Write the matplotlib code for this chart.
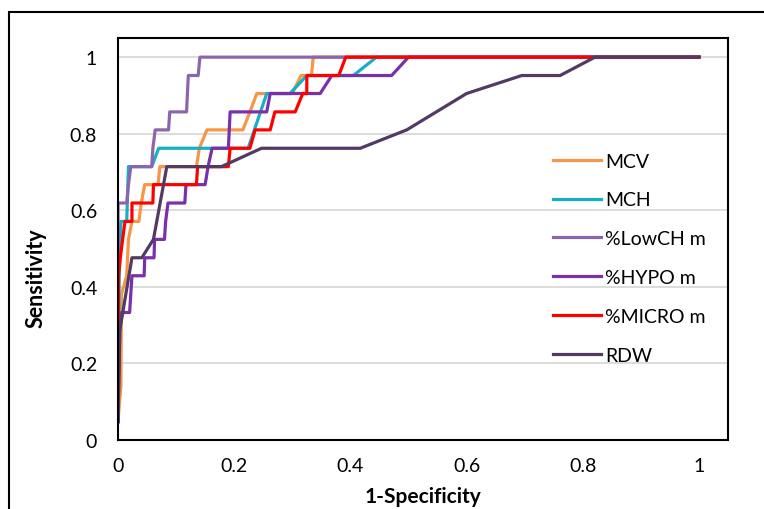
import numpy as np
import matplotlib
matplotlib.use('Agg')
import matplotlib.pyplot as plt
from matplotlib.patches import Rectangle

plt.rcParams['font.family'] = ['Lato', 'DejaVu Sans']

# ROC points (1-specificity, sensitivity)
mcv_x = [0, 0.005, 0.006, 0.015, 0.018, 0.024, 0.036, 0.040, 0.046, 0.069, 0.072, 0.135, 0.140, 0.153,
         0.215, 0.227, 0.239, 0.258, 0.300, 0.315, 0.333, 0.336, 1.0]
mcv_y = [0.048, 0.143, 0.381, 0.429, 0.524, 0.571, 0.571, 0.619, 0.667, 0.667, 0.714, 0.714, 0.762, 0.810,
         0.810, 0.857, 0.905, 0.905, 0.905, 0.952, 0.952, 1.0, 1.0]

mch_x = [0, 0.002, 0.005, 0.015, 0.018, 0.058, 0.070, 0.224, 0.256, 0.296, 0.325, 0.405, 0.445, 1.0]
mch_y = [0.048, 0.429, 0.571, 0.571, 0.714, 0.714, 0.762, 0.762, 0.905, 0.905, 0.952, 0.952, 1.0, 1.0]

lowch_x = [0, 0.0, 0.015, 0.018, 0.022, 0.058, 0.060, 0.064, 0.087, 0.089, 0.118, 0.121, 0.138, 0.141, 1.0]
lowch_y = [0.048, 0.619, 0.619, 0.667, 0.714, 0.714, 0.762, 0.810, 0.810, 0.857, 0.857, 0.952, 0.952, 1.0, 1.0]

hypo_x = [0, 0.003, 0.006, 0.020, 0.022, 0.024, 0.045, 0.046, 0.062, 0.063, 0.080, 0.082, 0.086, 0.115,
          0.117, 0.150, 0.155, 0.162, 0.190, 0.193, 0.256, 0.262, 0.348, 0.368, 0.471, 0.500, 1.0]
hypo_y = [0.048, 0.286, 0.333, 0.333, 0.381, 0.429, 0.429, 0.476, 0.476, 0.524, 0.524, 0.571, 0.619, 0.619,
          0.667, 0.667, 0.714, 0.762, 0.762, 0.857, 0.857, 0.905, 0.905, 0.952, 0.952, 1.0, 1.0]

micro_x = [0, 0.001, 0.004, 0.008, 0.012, 0.024, 0.024, 0.060, 0.061, 0.135, 0.137, 0.190, 0.193, 0.227,
           0.236, 0.262, 0.270, 0.305, 0.318, 0.325, 0.325, 0.380, 0.392, 1.0]
micro_y = [0.238, 0.429, 0.476, 0.524, 0.571, 0.571, 0.619, 0.619, 0.667, 0.667, 0.714, 0.714, 0.762, 0.762,
           0.810, 0.810, 0.857, 0.857, 0.905, 0.905, 0.952, 0.952, 1.0, 1.0]

rdw_x = [0, 0.003, 0.024, 0.041, 0.061, 0.084, 0.178, 0.247, 0.417, 0.497, 0.600, 0.695, 0.761, 0.821, 1.0]
rdw_y = [0.048, 0.286, 0.476, 0.476, 0.524, 0.714, 0.714, 0.762, 0.762, 0.810, 0.905, 0.952, 0.952, 1.0, 1.0]

series = [
    ('MCV', mcv_x, mcv_y, '#F79646'),
    ('MCH', mch_x, mch_y, '#17AFC6'),
    ('%LowCH m', lowch_x, lowch_y, '#8A66AE'),
    ('%HYPO m', hypo_x, hypo_y, '#7A30A8'),
    ('%MICRO m', micro_x, micro_y, '#FF0000'),
    ('RDW', rdw_x, rdw_y, '#523A64'),
]

fig = plt.figure(figsize=(7.64, 5.10), dpi=100)
ax = fig.add_axes([118 / 764, 1 - 441 / 510, 610 / 764, 402 / 510])

for name, xs, ys, col in series:
    ax.plot(xs, ys, color=col, lw=2.3, label=name, solid_joinstyle='round')

ax.set_xlim(0, 1.05)
ax.set_ylim(0, 1.05)
ticks = [0, 0.2, 0.4, 0.6, 0.8, 1]
labels = ['0', '0.2', '0.4', '0.6', '0.8', '1']
ax.set_xticks(ticks)
ax.set_xticklabels(labels)
ax.set_yticks(ticks)
ax.set_yticklabels(labels)
ax.tick_params(axis='x', length=0, labelsize=14, pad=12)
ax.tick_params(axis='y', length=0, labelsize=14, pad=15)
ax.grid(axis='y', color='#D9D9D9', lw=1.3)
ax.set_axisbelow(True)
for s in ax.spines.values():
    s.set_color('black')
    s.set_linewidth(1.5)

# the reference crops this label at the bottom edge; keep it just inside
ax.set_xlabel('1-Specificity', fontsize=15, fontweight='bold')
ax.xaxis.set_label_coords(0.5, (441 - 487) / 402)
ax.set_ylabel('Sensitivity', fontsize=15.5, fontweight='bold')
ax.yaxis.set_label_coords((47 - 118) / 610, (441 - 278) / 402)

ax.legend(loc='upper left', bbox_to_anchor=((543 - 118) / 610, (441 - 144) / 402), frameon=False,
          fontsize=14, handlelength=2.5, handletextpad=0.2, labelspacing=1.12, borderpad=0)

# outer chart border
fig.add_artist(Rectangle((9 / 764, -0.2), 1.2, 0.2 + (1 - 13 / 510), transform=fig.transFigure,
                         fill=False, ec='black', lw=1.5, clip_on=False))

fig.savefig('out.png', dpi=100)
